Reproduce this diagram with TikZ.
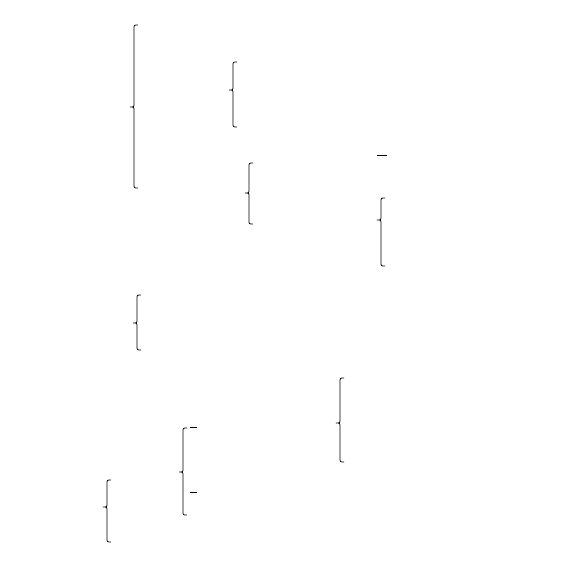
\documentclass[tikz,border=0pt]{standalone}
\newcommand\tib{\fontsize{10}{12}\selectfont}
\newcommand\tbrace[4]{\draw[brc] (#1+4,#2) .. controls (#1,#2) .. (#1,#2+4) -- (#1,#3-4) .. controls (#1,#3) .. (#1-4,#3) .. controls (#1,#3) .. (#1,#3+4) -- (#1,#4-4) .. controls (#1,#4) .. (#1+4,#4);}
\begin{document}
\begin{tikzpicture}[x=1pt,y=-1pt]
\tikzset{lbl/.style={anchor=west,inner sep=0pt,font=\tib,minimum height=12pt,align=left}, brc/.style={line width=0.8pt}, dsh/.style={line width=0.8pt}}
\useasboundingbox (0,0) rectangle (577,568);
\fill[white] (0,0) rectangle (577,568);
% top group
\node[lbl,minimum width=105pt] (a0) at (27,106) {གནས་བརྟན་པའི་སྡེ};
\node[lbl,minimum width=69pt] (a1) at (143,29) {གངས་རིའི་སྡེ།};
\node[lbl,minimum width=87pt] (a2) at (143,90) {གནས་མ་བུའི་སྡེ།};
\node[lbl,minimum width=78pt] (a21) at (237,46) {ཆོས་མཆོག་པའི་སྡེ།};
\node[lbl,minimum width=61pt] (a22) at (237,72) {བཟང་པུའི་སྡེ།};
\node[lbl,minimum width=95pt] (a23) at (237,98) {ཀུན་གྱི་བཀུར་བའི་སྡེ།};
\node[lbl,minimum width=115pt] (a24) at (237,126) {གྲོང་འཁྱེར་དྲུག་པའི་སྡེ།};
\node[lbl,minimum width=101pt] (a3) at (143,191) {གནས་བརྟན་པའི་སྡེ།};
\node[lbl,minimum width=118pt] (a31) at (257,155) {ཐམས་ཅད་ཡོད་པར་སྨྲ་བའི་སྡེ།};
\node[lbl,minimum width=127pt] (a311) at (388,155) {མདོ་སྡེ་སྨྲ་བའི་སྡེ།};
\node[lbl,minimum width=118pt] (a32) at (257,220) {རྣམ་པར་ཕྱེ་སྟེ་སྨྲ་བའི་སྡེ།};
\node[lbl,minimum width=60pt] (a321) at (388,183) {འོད་སྲུང་སྡེ།};
\node[lbl,minimum width=79pt] (a322) at (388,210) {གནས་བརྟན་སྡེ།};
\node[lbl,minimum width=54pt] (a323) at (388,238) {ས་སྟོན་སྡེ།};
\node[lbl,minimum width=62pt] (a324) at (388,263) {ཆོས་སྲུང་སྡེ།};
\draw[dsh,shorten <=2pt,shorten >=1pt] (a31.east) -- (a311.west);
\tbrace{134}{25}{107}{188}
\tbrace{233}{62}{90}{127}
\tbrace{249}{163}{193}{224}
\tbrace{381}{198}{220}{266}
% middle group
\node[lbl,minimum width=105pt] (b0) at (27,323) {གནས་བརྟན་སྡེ།};
\node[lbl,minimum width=97pt] (b1) at (143,295) {གཙུག་ལག་ཁང་ཆེན་སྡེ།};
\node[lbl,minimum width=97pt] (b2) at (143,322) {འཇིགས་མེད་རི་བོའི་སྡེ།};
\node[lbl,minimum width=94pt] (b3) at (143,346) {རྒྱལ་བྱེད་ཚལ་གནས་སྡེ།};
\tbrace{137}{295}{323}{350}
% bottom group
\node[lbl,minimum width=77pt] (c0) at (25,507) {ཕལ་ཆེན་པའི་སྡེ།};
\node[lbl,minimum width=65pt] (c1) at (111,470) {བྱ་གག་རིའི་སྡེ།};
\node[lbl,minimum width=97pt] (c2) at (111,542) {ཐ་སྙད་གཅིག་པའི་སྡེ།};
\node[lbl,minimum width=84pt] (c11) at (203,427) {མཆོད་རྟེན་པའི་སྡེ།};
\node[lbl,minimum width=87pt] (c12) at (203,492) {མང་དུ་ཐོས་པའི་སྡེ།};
\node[lbl,minimum width=106pt] (c13) at (187,517) {བཏགས་པར་སྨྲ་བའི་སྡེ།};
\node[lbl,minimum width=72pt] (c111) at (348,385) {ཤར་གྱི་རིའི་སྡེ།};
\node[lbl,minimum width=72pt] (c112) at (348,410) {ནུབ་གྱི་རིའི་སྡེ།};
\node[lbl,minimum width=90pt] (c113) at (348,435) {རྒྱལ་པོའི་རི་བོའི་སྡེ།};
\node[lbl,minimum width=44pt] (c114) at (348,458) {དོན་གྲུབ་སྡེ།};
\coordinate (d1) at (190,427);
\coordinate (d2) at (190,492);
\draw[dsh,shorten >=6pt] (d1) -- (c11.west);
\draw[dsh,shorten >=6pt] (d2) -- (c12.west);
\tbrace{107}{480}{507}{542}
\tbrace{183}{428}{472}{515}
\tbrace{340}{378}{423}{462}
\end{tikzpicture}
\end{document}
